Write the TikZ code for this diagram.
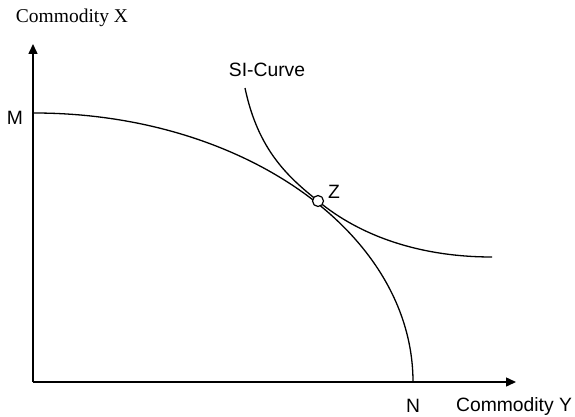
\documentclass[tikz,border=0pt]{standalone}
\usepackage{fontspec}
\setmainfont{Liberation Sans}
\newfontfamily\axisserif{Liberation Serif}
\usetikzlibrary{arrows.meta, positioning}

\begin{document}
\begin{tikzpicture}[x=1pt, y=-1pt, >={Triangle[length=10pt, width=9pt]},
  font=\fontsize{19.3}{22}\selectfont, line width=1.3pt]
  \useasboundingbox (0,0) rectangle (575,417);
  % axes
  \coordinate (O) at (33,382);
  \coordinate (Ytop) at (33,44);
  \coordinate (Xend) at (516,382);
  \draw[->, line width=1.5pt] (O) -- (Ytop);
  \draw[->, line width=1.5pt] (O) -- (Xend);
  \node[font=\axisserif\fontsize{19.5}{22}\selectfont] (labX) at (72,18) {Commodity X};
  \node[inner sep=1pt] (labY) at (514,407) {Commodity Y};
  % production possibility curve
  \coordinate (Mpt) at (34,113);
  \node (M) at (15,118) {M};
  \node[inner sep=1pt] (N) at (413,406) {N};
  \draw (Mpt) arc[start angle=90, end angle=0, x radius=379pt, y radius=269pt] coordinate (Npt);
  % social indifference curve
  \coordinate (Zc) at (318,201);
  \draw (245,88) .. controls (258,150) and (288,177) .. (Zc)
    .. controls (360,236) and (420,257) .. (492,257);
  \node[draw, circle, fill=white, inner sep=0pt, minimum size=11pt, line width=1.2pt] (Z) at (Zc) {};
  \node (labZ) at (334,192) {Z};
  \node (labSI) at (267,70) {SI-Curve};
\end{tikzpicture}
\end{document}
